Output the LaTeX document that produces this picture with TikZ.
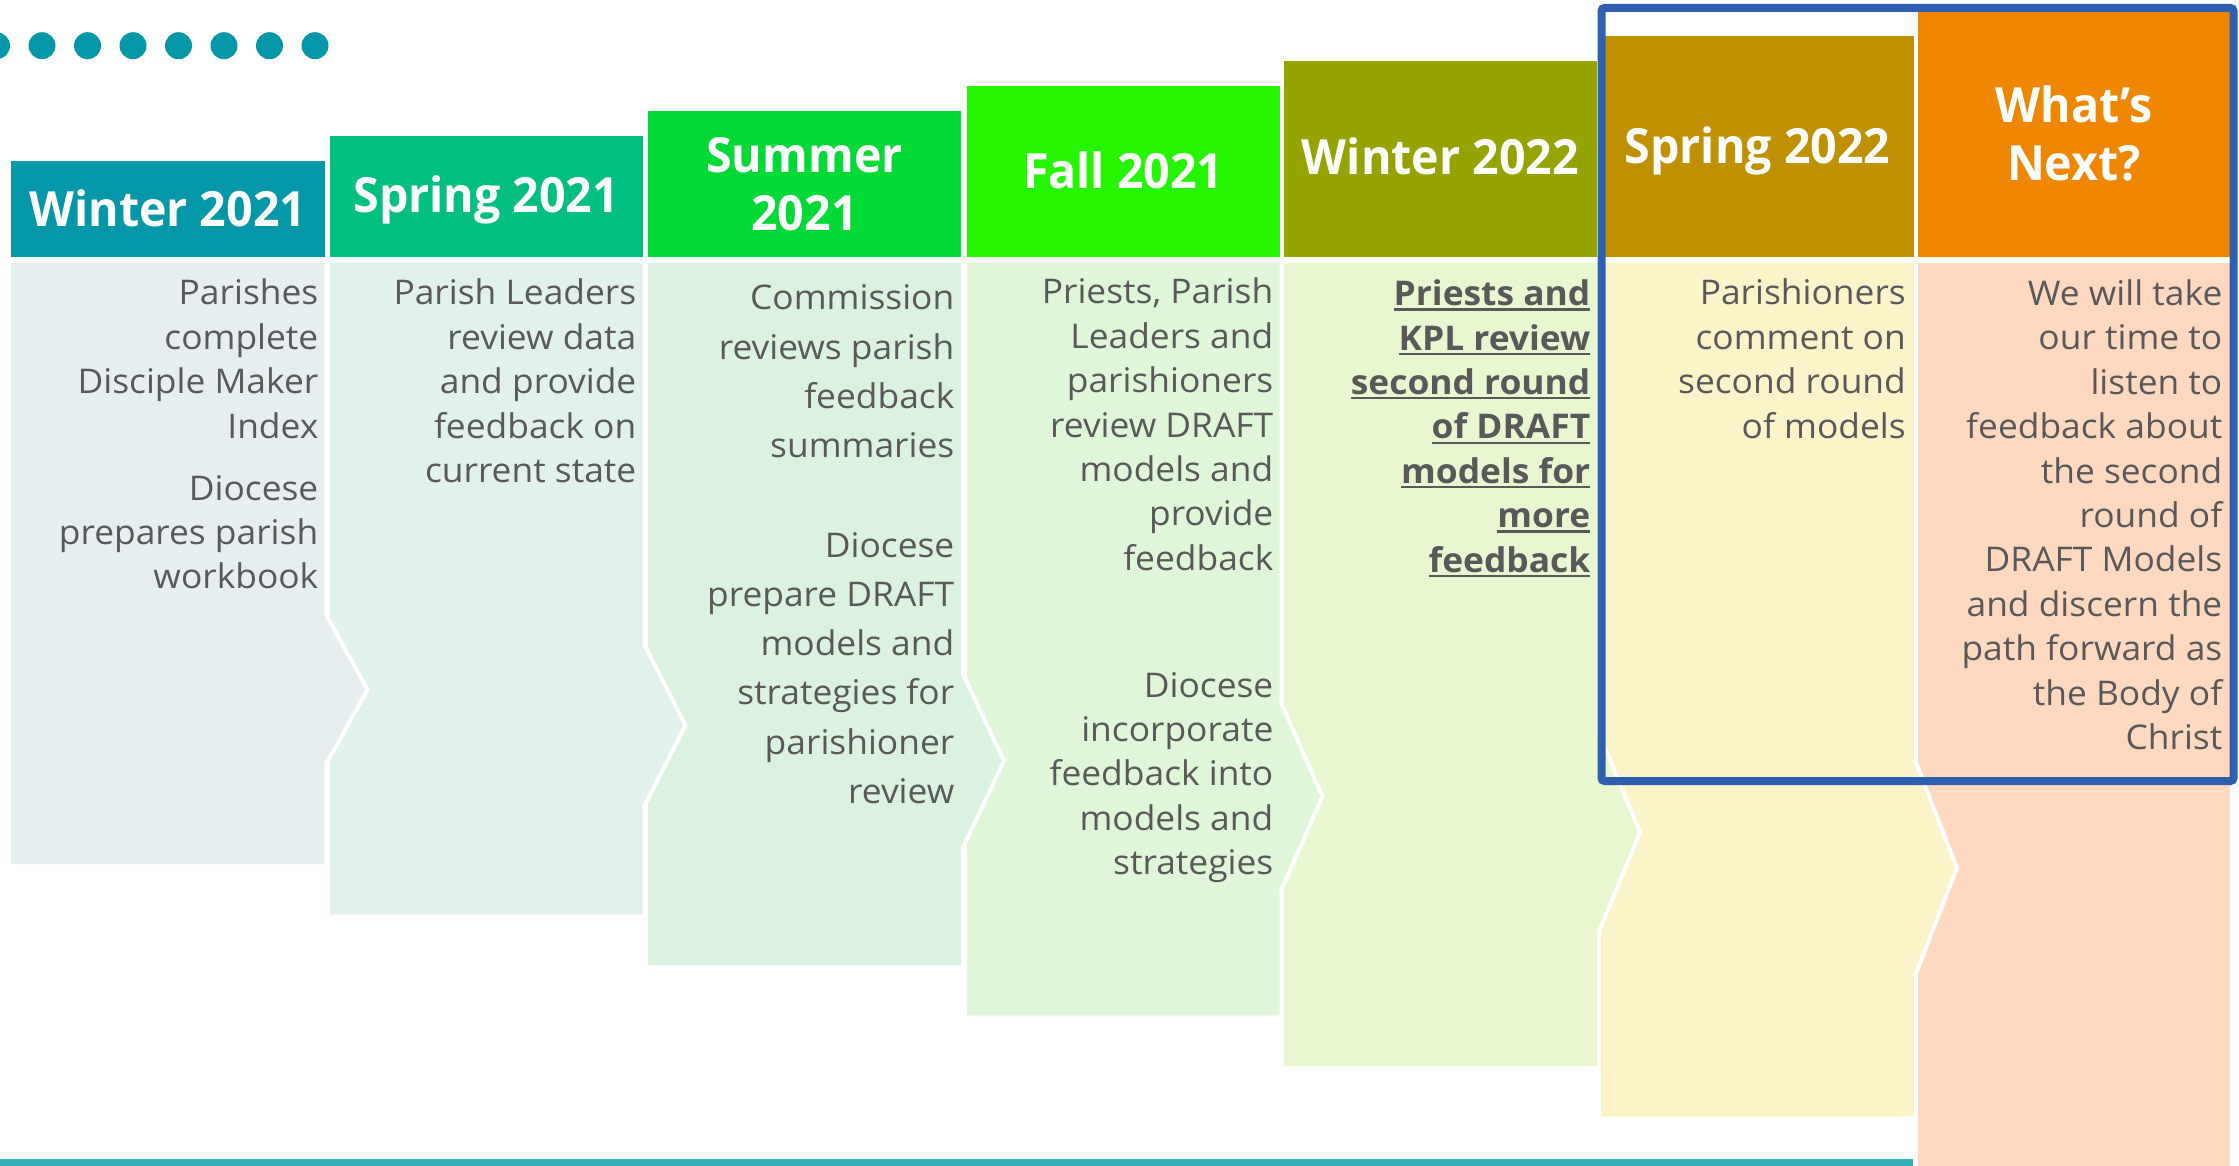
\documentclass[tikz,border=0pt]{standalone}
\usepackage{fontspec}
\setmainfont{Open Sans}[FakeStretch=1.04]
\newfontfamily\hdfont[FakeStretch=0.96]{Open Sans}
\newcommand\ulin[1]{\setbox0\hbox{#1}\rlap{\rule[-5pt]{\wd0}{2.2pt}}\box0}
\definecolor{h1}{HTML}{0397A7}
\definecolor{h2}{HTML}{00BF80}
\definecolor{h3}{HTML}{00D936}
\definecolor{h4}{HTML}{26F500}
\definecolor{h5}{HTML}{94A300}
\definecolor{h6}{HTML}{BF9000}
\definecolor{h7}{HTML}{EE8600}
\definecolor{b1}{HTML}{E6EEEF}
\definecolor{b2}{HTML}{E1F1EC}
\definecolor{b3}{HTML}{DCF2E1}
\definecolor{b4}{HTML}{DFF7D8}
\definecolor{b5}{HTML}{E8F7D0}
\definecolor{b6}{HTML}{FBF4C8}
\definecolor{b7}{HTML}{FED9BF}
\definecolor{dotc}{HTML}{0397A7}
\definecolor{linec}{HTML}{36B0B5}
\definecolor{framec}{HTML}{2F5FB0}
\definecolor{txt}{HTML}{595959}
\newcommand\bodyfont{\fontsize{34}{44.4}\selectfont}
\newcommand\bodyfontwide{\fontsize{34}{49.3}\selectfont}
\newcommand\headfont{\hdfont\bfseries\fontsize{48.5}{58.3}\selectfont}
\newcommand\rlines[1]{\begin{tabular}[t]{@{}r@{}}#1\end{tabular}}
\newcommand\clines[1]{\begin{tabular}[t]{@{}c@{}}#1\end{tabular}}
\begin{document}
\begin{tikzpicture}[x=1pt,y=-1pt,
  bodytext/.style={anchor=base east,inner sep=0pt,text=txt,font=\bodyfont},
  headtext/.style={anchor=base,inner sep=0pt,text=white,font=\headfont}]
\useasboundingbox (0,0) rectangle (2239,1166);
% dots
\foreach \i in {0,...,7}
  \fill[dotc] ({-3.5+45.5*\i},45.7) circle[radius=13.5];
% bottom line
\fill[linec] (0,1159) rectangle (1913,1166);
% body of last column
\fill[b7] (1918,263) rectangle (2230,1166);
% bodies with chevrons, right to left
\foreach \i/\xl/\xr in {6/1601/1914,5/1284/1597,4/967/1279.5,3/648/961,2/330/642.5,1/11/324.5}{
  \pgfmathsetmacro\ty{689.5+35.7*(\i-1)}
  \pgfmathsetmacro\hh{76+6.4*(\i-1)}
  \pgfmathsetmacro\bb{864+50.5*(\i-1)}
  \fill[b\i] (\xl,263) -- (\xr,263) -- (\xr,\ty-\hh) -- (\xr+43,\ty) -- (\xr,\ty+\hh) -- (\xr,\bb) -- (\xl,\bb) -- cycle;
  \draw[white,line width=4pt] (\xr+1,\ty-\hh) -- (\xr+43,\ty) -- (\xr+1,\ty+\hh);
}
% headers
\foreach \i/\xl/\xr in {1/11/324.5,2/330/642.5,3/648/961,4/967/1279.5,5/1284/1597,6/1601/1914,7/1918/2230}
  \fill[h\i] (\xl,{161-25*(\i-1)}) rectangle (\xr,257);
% header texts
\node[headtext] (hd1) at (167.75,226.7) {\clines{Winter 2021}};
\node[headtext] (hd2) at (486.25,212.7) {\clines{Spring 2021}};
\node[headtext] (hd3) at (804.5,172.7) {\clines{Summer\\2021}};
\node[headtext] (hd4) at (1123.25,188.3) {\clines{Fall 2021}};
\node[headtext] (hd5) at (1440.5,175) {\clines{Winter 2022}};
\node[headtext] (hd6) at (1757.5,164) {\clines{Spring 2022}};
\node[headtext] (hd7) at (2074,122.7) {\clines{What’s\\Next?}};
% body texts
\node[bodytext] (t1a) at (318.5,305) {\rlines{Parishes\\complete\\Disciple Maker\\Index}};
\node[bodytext] (t1b) at (318.5,500) {\rlines{Diocese\\prepares parish\\workbook}};
\node[bodytext] (t2) at (636.5,305) {\rlines{Parish Leaders\\review data\\and provide\\feedback on\\current state}};
\node[bodytext,font=\bodyfontwide] (t3a) at (954.5,310) {\rlines{Commission\\reviews parish\\feedback\\summaries}};
\node[bodytext,font=\bodyfontwide] (t3b) at (954.5,557) {\rlines{Diocese\\prepare DRAFT\\models and\\strategies for\\parishioner\\review}};
\node[bodytext] (t4a) at (1273.5,304) {\rlines{Priests, Parish\\Leaders and\\parishioners\\review DRAFT\\models and\\provide\\feedback}};
\node[bodytext] (t4b) at (1273.5,697) {\rlines{Diocese\\incorporate\\feedback into\\models and\\strategies}};
\node[bodytext,font=\bodyfont\bfseries] (t5) at (1590.5,305.7) {\rlines{\ulin{Priests and}\\\ulin{KPL review}\\\ulin{second round}\\\ulin{of DRAFT}\\\ulin{models for}\\\ulin{more}\\\ulin{feedback}}};
\node[bodytext] (t6) at (1906,305) {\rlines{Parishioners\\comment on\\second round\\of models}};
\node[bodytext] (t7) at (2222.5,305.5) {\rlines{We will take\\our time to\\listen to\\feedback about\\the second\\round of\\DRAFT Models\\and discern the\\path forward as\\the Body of\\Christ}};
% highlight frame
\draw[framec,line width=8pt,rounded corners=3pt] (1601.5,8) rectangle (2233.5,781);
\end{tikzpicture}
\end{document}
